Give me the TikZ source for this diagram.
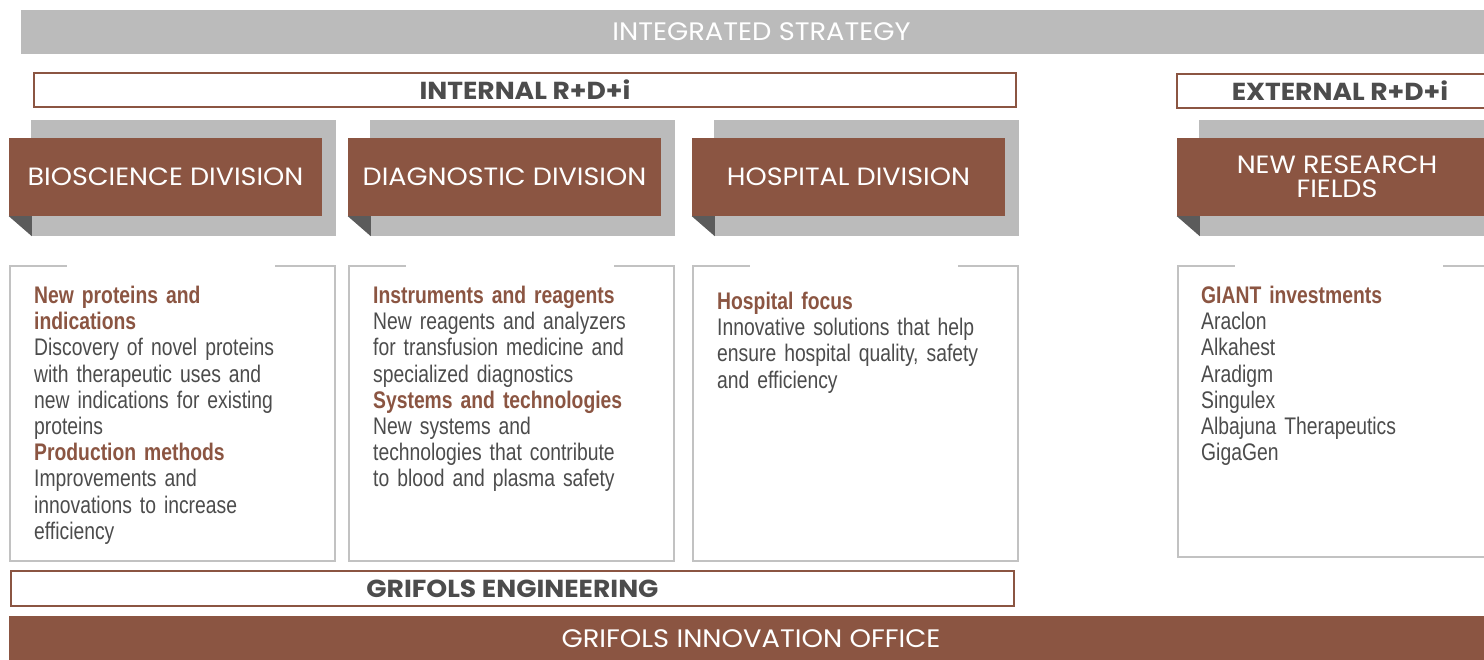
\documentclass[tikz,border=0pt]{standalone}
\usepackage{fontspec}
\setmainfont{Liberation Sans}
\newfontfamily\headfont[FakeStretch=1.08]{Poppins}
\newfontfamily\bodyfont[FakeStretch=0.805]{Liberation Sans}
\usetikzlibrary{positioning,calc,backgrounds}
\definecolor{grbrown}{HTML}{8B5542}
\definecolor{grgray}{HTML}{BBBBBB}
\definecolor{grfold}{HTML}{5B5B5B}
\definecolor{grtext}{HTML}{4C4C4C}
\definecolor{grline}{HTML}{C2C2C2}
\newcommand{\itemhead}[1]{{\bfseries\color{grbrown}#1}}
\tikzset{
  bandbox/.style={inner sep=0pt, text=white, font=\headfont\fontsize{25.3}{24}\selectfont},
  framebox/.style={draw=grbrown, line width=2pt, fill=white, inner sep=0pt,
    text=grtext, font=\headfont\bfseries\fontsize{24.6}{24}\selectfont},
  divbox/.style={fill=grbrown, text=white, minimum width=313pt, minimum height=78pt,
    inner sep=0pt, align=center, font=\headfont\fontsize{25}{24}\selectfont},
  divshadow/.style={fill=grgray},
  divfold/.style={fill=grfold},
  infoframe/.style={minimum width=325pt, minimum height=295pt, inner sep=0pt},
  infoline/.style={draw=grline, line width=1.6pt},
  infotext/.style={anchor=north west, align=left, text width=300pt, inner sep=0pt,
    text=grtext, font=\bodyfont\fontsize{24}{26.2}\selectfont},
}

\begin{document}
\begin{tikzpicture}[x=1pt, y=-1pt]
  \clip (0,0) rectangle (1484,659);
  % strategy band and the two R+D+i frames
  \node[bandbox, fill=grgray, minimum width=1481pt, minimum height=44pt] (strategy) at (761.5,32) {\raisebox{-2pt}{INTEGRATED STRATEGY}};
  \node[framebox, minimum width=982pt, minimum height=34pt] (internal) at (525,90) {\raisebox{-2pt}{INTERNAL R+D+i}};
  \node[framebox, minimum width=326pt, minimum height=34pt] (external) at (1340,91) {\raisebox{-1pt}{EXTERNAL R+D+i}};
  % division headers
  \foreach \name/\cx/\bw/\txt in {bio/165.5/313/BIOSCIENCE DIVISION, diag/504.5/313/DIAGNOSTIC DIVISION,
      hosp/848.5/313/HOSPITAL DIVISION, fields/1337/320/{NEW RESEARCH\\FIELDS}}
    \node[divbox, minimum width=\bw pt] (\name) at (\cx,177) {\txt};
  \begin{scope}[on background layer]
    \fill[white] (0,0) rectangle (1484,659);
    \foreach \name in {bio, diag, hosp, fields} {
      \fill[divshadow] ([shift={(22,-18)}]\name.north west) rectangle ([shift={(14,20)}]\name.south east);
      \fill[divfold] (\name.south west) -- ++(23,0) -- ++(0,20) -- cycle;
    }
  \end{scope}
  % open frames below the headers
  \node[infoframe] (bioinfo) at (172.5,413.5) {};
  \node[infoframe] (diaginfo) at (511.5,413.5) {};
  \node[infoframe] (hospinfo) at (855.5,413.5) {};
  \node[infoframe, minimum height=291pt] (fieldsinfo) at (1340.5,411.5) {};
  \foreach \frm in {bioinfo, diaginfo, hospinfo, fieldsinfo}
    \draw[infoline] ([xshift=57pt]\frm.north west) -- (\frm.north west) -- (\frm.south west)
      -- (\frm.south east) -- (\frm.north east) -- ([xshift=-60pt]\frm.north east);
  % texts
  \node[infotext] (biotext) at (34,286) {\itemhead{New proteins and\\indications}\\
    Discovery of novel proteins\\with therapeutic uses and\\new indications for existing\\proteins\\
    \itemhead{Production methods}\\Improvements and\\innovations to increase\\efficiency};
  \node[infotext] (diagtext) at (373,286) {\itemhead{Instruments and reagents}\\
    New reagents and analyzers\\for transfusion medicine and\\specialized diagnostics\\
    \itemhead{Systems and technologies}\\New systems and\\technologies that contribute\\to blood and plasma safety};
  \node[infotext] (hosptext) at (717,292) {\itemhead{Hospital focus}\\
    Innovative solutions that help\\ensure hospital quality, safety\\and efficiency};
  \node[infotext] (fieldstext) at (1201,286) {\itemhead{GIANT investments}\\
    Araclon\\Alkahest\\Aradigm\\Singulex\\Albajuna Therapeutics\\GigaGen};
  % bottom bands
  \node[framebox, minimum width=1003pt, minimum height=35pt] (engineering) at (512.5,588.5) {\raisebox{-1.5pt}{GRIFOLS ENGINEERING}};
  \node[bandbox, fill=grbrown, minimum width=1484pt, minimum height=46pt] (office) at (751,639) {GRIFOLS INNOVATION OFFICE};
\end{tikzpicture}
\end{document}
